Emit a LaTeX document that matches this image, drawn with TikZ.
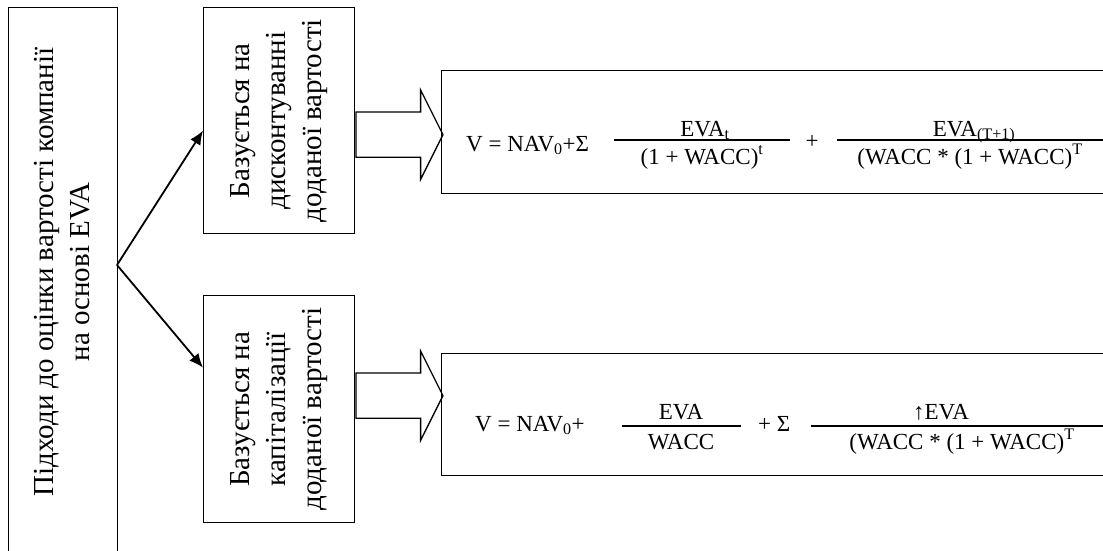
\documentclass[tikz,border=0pt]{standalone}
\usepackage{fontspec}
\setmainfont{Liberation Serif}
\usetikzlibrary{arrows.meta,shapes.arrows}

\tikzset{
  box/.style={draw, line width=1.3pt, inner sep=0pt},
  link/.style={-{Latex[length=14pt,width=12pt]}, line width=1.8pt},
  blockarrow/.style={single arrow, draw, line width=1.3pt,
    inner xsep=0pt, inner ysep=22pt, minimum height=87pt,
    single arrow head extend=22pt, single arrow tip angle=126.87},
  vtext/.style={rotate=90, align=center, inner sep=0pt,
    font=\fontsize{29}{36}\selectfont},
  ftext/.style={inner sep=0pt, font=\fontsize{23}{27}\selectfont},
  bar/.style={line width=1.3pt}
}

\begin{document}
\begin{tikzpicture}[x=1pt, y=-1pt]
\useasboundingbox (0,0) rectangle (1103,550);
\clip (0,0) rectangle (1103,550);

  % Boxes (manual placement)
  \node[box, minimum width=109pt, minimum height=600pt, anchor=north west] (approach) at (8,7) {};
  \node[vtext] (approachtext) at (62.5,272) {Підходи до оцінки вартості компанії\\на основі EVA};

  \node[box, minimum width=151pt, minimum height=226pt, anchor=north west] (disc) at (203,7) {};
  \node[vtext] (disctext) at (disc.center) {Базується на\\дисконтуванні\\доданої вартості};

  \node[box, minimum width=151pt, minimum height=227pt, anchor=north west] (cap) at (203,295) {};
  \node[vtext] (captext) at (cap.center) {Базується на\\капіталізації\\доданої вартості};

  \node[box, minimum width=700pt, minimum height=123pt, anchor=north west] (fdisc) at (441,70) {};
  \node[box, minimum width=700pt, minimum height=122pt, anchor=north west] (fcap) at (441,353) {};

  % Links
  \coordinate (fork) at (117,265);
  \draw[link] (fork) -- ([yshift=-10pt]disc.west);
  \draw[link] (fork) -- ([yshift=41.5pt]cap.west);

  \node[blockarrow, anchor=tail] (flowdisc) at ([yshift=-14pt]disc.east) {};
  \node[blockarrow, anchor=tail] (flowcap) at ([yshift=13.5pt]cap.east) {};

  % Formula: discounting
  \node[ftext, anchor=base west] (f1lhs) at (466,151) {V = NAV\textsubscript{0}+Σ};
  \draw[bar] (614,140) -- (790,140);
  \node[ftext, anchor=base] (f1num) at (705,136) {EVA\textsubscript{t}};
  \node[ftext, anchor=base] (f1den) at (702,164) {(1 + WACC)\textsuperscript{t}};
  \node[ftext, anchor=base] (f1plus) at (812,148) {+};
  \draw[bar] (837,140) -- (1103,140);
  \node[ftext, anchor=base] (f1num2) at (974,136) {EVA\textsubscript{(T+1)}};
  \node[ftext, anchor=base] (f1den2) at (970,164) {(WACC * (1 + WACC)\textsuperscript{T}};

  % Formula: capitalisation
  \node[ftext, anchor=base west] (f2lhs) at (475,431) {V = NAV\textsubscript{0}+};
  \draw[bar] (622,426) -- (741,426);
  \node[ftext, anchor=base] (f2num) at (681,419) {EVA};
  \node[ftext, anchor=base] (f2den) at (681,449) {WACC};
  \node[ftext, anchor=base west] (f2sum) at (758,431) {+ Σ};
  \draw[bar] (811,426) -- (1103,426);
  \node[ftext, anchor=base] (f2num2) at (941,419) {↑EVA};
  \node[ftext, anchor=base] (f2den2) at (962,449) {(WACC * (1 + WACC)\textsuperscript{T}};
\end{tikzpicture}
\end{document}
